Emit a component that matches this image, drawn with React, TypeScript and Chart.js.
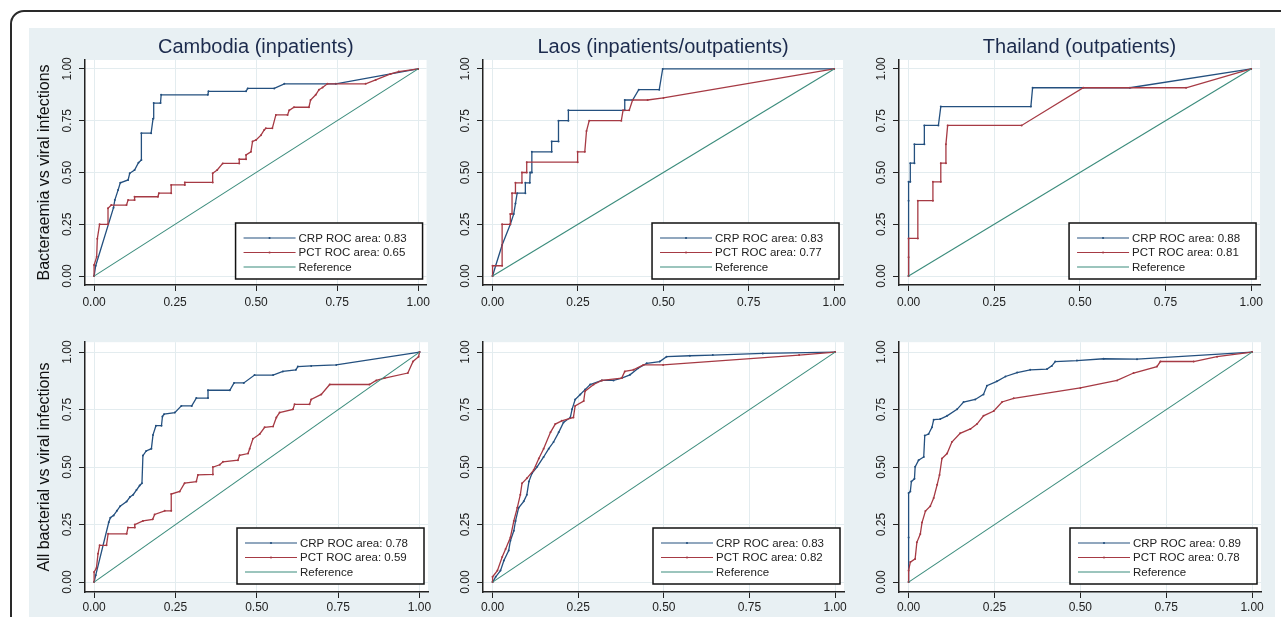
import React, { useEffect, useRef } from "react";
import { Chart, registerables } from "chart.js";

Chart.register(...registerables);

// ---------------- data ----------------
const columnTitles = ["Cambodia (inpatients)", "Laos (inpatients/outpatients)", "Thailand (outpatients)"];
const rowTitles = ["Bacteraemia vs viral infections", "All bacterial vs viral infections"];
const tickValues = [0, 0.25, 0.5, 0.75, 1];
const tickLabels = ["0.00", "0.25", "0.50", "0.75", "1.00"];
const crpAreas = [
  [0.83, 0.83, 0.88],
  [0.78, 0.83, 0.89],
];
const pctAreas = [
  [0.65, 0.77, 0.81],
  [0.59, 0.82, 0.78],
];
const referenceLine = [[0, 0], [1, 1]];

// [1 - specificity, sensitivity]
const cambodiaBactCRP = [
  [0, 0], [0.005, 0.05], [0.06, 0.33], [0.064, 0.367], [0.074, 0.415], [0.081, 0.45], [0.105, 0.464],
  [0.11, 0.496], [0.125, 0.512], [0.137, 0.547], [0.146, 0.56], [0.146, 0.69], [0.176, 0.69],
  [0.182, 0.76], [0.184, 0.835], [0.205, 0.835], [0.207, 0.875], [0.351, 0.875], [0.353, 0.892],
  [0.469, 0.892], [0.474, 0.906], [0.556, 0.906], [0.587, 0.928], [0.746, 0.928], [1, 1],
];
const cambodiaBactPCT = [
  [0, 0], [0, 0.053], [0.008, 0.093], [0.01, 0.18], [0.017, 0.25], [0.043, 0.25], [0.043, 0.327],
  [0.053, 0.343], [0.1, 0.343], [0.105, 0.367], [0.125, 0.367], [0.125, 0.383], [0.197, 0.383],
  [0.2, 0.4], [0.238, 0.4], [0.238, 0.44], [0.28, 0.44], [0.28, 0.452], [0.366, 0.452], [0.366, 0.496],
  [0.38, 0.512], [0.397, 0.544], [0.448, 0.544], [0.448, 0.564], [0.469, 0.564], [0.469, 0.585],
  [0.484, 0.6], [0.489, 0.65], [0.5, 0.657], [0.515, 0.68], [0.525, 0.705], [0.53, 0.713], [0.55, 0.713],
  [0.561, 0.778], [0.597, 0.778], [0.602, 0.8], [0.617, 0.815], [0.663, 0.815], [0.668, 0.85],
  [0.684, 0.875], [0.694, 0.9], [0.705, 0.91], [0.72, 0.928], [0.838, 0.928], [0.869, 0.947],
  [0.915, 0.976], [0.94, 0.987], [1, 1],
];
const cambodiaAllCRP = [
  [0, 0], [0.005, 0.03], [0.045, 0.26], [0.05, 0.28], [0.06, 0.29], [0.07, 0.31], [0.08, 0.33],
  [0.1, 0.35], [0.11, 0.37], [0.12, 0.38], [0.13, 0.4], [0.14, 0.42], [0.147, 0.43], [0.15, 0.55],
  [0.16, 0.57], [0.176, 0.58], [0.181, 0.64], [0.19, 0.68], [0.207, 0.68], [0.21, 0.72], [0.215, 0.73],
  [0.248, 0.737], [0.268, 0.766], [0.3, 0.766], [0.314, 0.8], [0.35, 0.8], [0.35, 0.834], [0.417, 0.834],
  [0.43, 0.866], [0.46, 0.866], [0.493, 0.9], [0.55, 0.9], [0.58, 0.916], [0.62, 0.923], [0.626, 0.937],
  [0.667, 0.94], [0.744, 0.944], [1, 1],
];
const cambodiaAllPCT = [
  [0, 0], [0, 0.044], [0.007, 0.06], [0.012, 0.123], [0.017, 0.16], [0.038, 0.16], [0.043, 0.21],
  [0.1, 0.21], [0.104, 0.237], [0.125, 0.237], [0.125, 0.25], [0.15, 0.266], [0.18, 0.273],
  [0.186, 0.294], [0.217, 0.31], [0.237, 0.31], [0.237, 0.383], [0.263, 0.394], [0.278, 0.43],
  [0.314, 0.437], [0.319, 0.466], [0.365, 0.468], [0.365, 0.5], [0.386, 0.51], [0.396, 0.523],
  [0.442, 0.53], [0.447, 0.551], [0.473, 0.559], [0.478, 0.58], [0.488, 0.623], [0.509, 0.644],
  [0.524, 0.673], [0.55, 0.677], [0.56, 0.716], [0.57, 0.737], [0.611, 0.751], [0.616, 0.773],
  [0.662, 0.773], [0.667, 0.794], [0.698, 0.816], [0.724, 0.859], [0.846, 0.859], [0.867, 0.877],
  [0.893, 0.887], [0.964, 0.909], [0.98, 0.959], [0.997, 0.98], [1, 1],
];
const laosBactCRP = [
  [0, 0], [0.009, 0.05], [0.028, 0.15], [0.052, 0.25], [0.062, 0.3], [0.067, 0.35], [0.072, 0.4],
  [0.096, 0.4], [0.096, 0.45], [0.109, 0.45], [0.11, 0.5], [0.115, 0.5], [0.115, 0.6], [0.173, 0.6],
  [0.173, 0.65], [0.193, 0.65], [0.193, 0.75], [0.222, 0.75], [0.222, 0.8], [0.387, 0.8], [0.387, 0.85],
  [0.41, 0.85], [0.428, 0.9], [0.488, 0.9], [0.498, 1], [1, 1],
];
const laosBactPCT = [
  [0, 0], [0, 0.05], [0.028, 0.05], [0.028, 0.25], [0.052, 0.25], [0.052, 0.3], [0.057, 0.3],
  [0.057, 0.4], [0.067, 0.4], [0.067, 0.45], [0.086, 0.45], [0.086, 0.5], [0.1, 0.5], [0.1, 0.55],
  [0.249, 0.55], [0.249, 0.6], [0.27, 0.6], [0.275, 0.7], [0.283, 0.75], [0.377, 0.75], [0.382, 0.8],
  [0.4, 0.8], [0.41, 0.85], [0.454, 0.85], [0.5, 0.86], [1, 1],
];
const laosAllCRP = [
  [0, 0], [0.009, 0.023], [0.023, 0.05], [0.033, 0.094], [0.047, 0.137], [0.052, 0.18], [0.062, 0.223],
  [0.067, 0.266], [0.076, 0.323], [0.091, 0.351], [0.1, 0.38], [0.106, 0.437], [0.115, 0.473],
  [0.13, 0.501], [0.149, 0.544], [0.164, 0.58], [0.178, 0.609], [0.193, 0.651], [0.207, 0.694],
  [0.227, 0.716], [0.232, 0.751], [0.241, 0.794], [0.256, 0.816], [0.27, 0.837], [0.285, 0.859],
  [0.319, 0.877], [0.353, 0.877], [0.377, 0.887], [0.401, 0.901], [0.425, 0.93], [0.45, 0.951],
  [0.488, 0.959], [0.508, 0.98], [0.576, 0.984], [0.643, 0.987], [0.789, 0.994], [1, 1],
];
const laosAllPCT = [
  [0, 0], [0, 0.023], [0.014, 0.05], [0.028, 0.109], [0.038, 0.144], [0.052, 0.194], [0.062, 0.266],
  [0.072, 0.323], [0.081, 0.38], [0.086, 0.43], [0.1, 0.451], [0.12, 0.487], [0.135, 0.537],
  [0.149, 0.58], [0.169, 0.651], [0.183, 0.687], [0.202, 0.701], [0.236, 0.716], [0.241, 0.766],
  [0.266, 0.787], [0.27, 0.83], [0.295, 0.859], [0.319, 0.877], [0.377, 0.887], [0.386, 0.916],
  [0.411, 0.923], [0.44, 0.944], [0.498, 0.944], [0.895, 0.987], [1, 1],
];
const thaiBactCRP = [
  [0, 0], [0, 0.364], [0, 0.455], [0.005, 0.455], [0.005, 0.545], [0.017, 0.545], [0.017, 0.636],
  [0.046, 0.636], [0.046, 0.727], [0.087, 0.727], [0.094, 0.818], [0.357, 0.818], [0.362, 0.909],
  [0.646, 0.909], [1, 1],
];
const thaiBactPCT = [
  [0, 0], [0, 0.091], [0, 0.182], [0.027, 0.182], [0.027, 0.364], [0.071, 0.364], [0.071, 0.455],
  [0.094, 0.455], [0.094, 0.545], [0.109, 0.545], [0.109, 0.636], [0.114, 0.727], [0.33, 0.727],
  [0.51, 0.909], [0.81, 0.909], [1, 1],
];
const thaiAllCRP = [
  [0, 0], [0, 0.194], [0, 0.387], [0.005, 0.394], [0.008, 0.437], [0.017, 0.449], [0.019, 0.501],
  [0.029, 0.53], [0.044, 0.544], [0.047, 0.637], [0.058, 0.644], [0.068, 0.673], [0.073, 0.706],
  [0.092, 0.709], [0.112, 0.723], [0.141, 0.751], [0.16, 0.783], [0.194, 0.794], [0.218, 0.816],
  [0.228, 0.854], [0.257, 0.873], [0.282, 0.894], [0.316, 0.911], [0.354, 0.923], [0.403, 0.926],
  [0.417, 0.94], [0.427, 0.959], [0.49, 0.963], [0.568, 0.971], [0.665, 0.969], [1, 1],
];
const thaiAllPCT = [
  [0, 0], [0, 0.051], [0.005, 0.087], [0.019, 0.101], [0.024, 0.173], [0.034, 0.209], [0.039, 0.259],
  [0.049, 0.309], [0.063, 0.33], [0.073, 0.366], [0.083, 0.423], [0.09, 0.466], [0.097, 0.537],
  [0.112, 0.559], [0.126, 0.609], [0.15, 0.647], [0.18, 0.666], [0.199, 0.687], [0.218, 0.723],
  [0.248, 0.744], [0.272, 0.783], [0.306, 0.799], [0.5, 0.844], [0.607, 0.877], [0.655, 0.909],
  [0.723, 0.937], [0.733, 0.959], [0.83, 0.959], [0.898, 0.98], [1, 1],
];

const crpCurves = [
  [cambodiaBactCRP, laosBactCRP, thaiBactCRP],
  [cambodiaAllCRP, laosAllCRP, thaiAllCRP],
];
const pctCurves = [
  [cambodiaBactPCT, laosBactPCT, thaiBactPCT],
  [cambodiaAllPCT, laosAllPCT, thaiAllPCT],
];

// ---------------- styling / layout ----------------
const FONT = '"Liberation Sans", Arial, Helvetica, sans-serif';
const CRP_COLOR = "#24507f";
const PCT_COLOR = "#a63a44";
const REF_COLOR = "#3b8c7c";
const GRID_COLOR = "#e3ecef";
const AXIS_COLOR = "#222";
const BG_COLOR = "#e8f0f3";

const colCanvasLeft = [29, 453, 869];
const colCanvasWidth = [405, 397, 398];
const colYAxisWidth = [56, 30, 30];
const rowCanvasTop = [28, 335];
const rowCanvasHeight = [283, 283];
const X_AXIS_H = 26;

const toPts = (arr: number[][]) => arr.map(([x, y]) => ({ x, y }));

const plotBgPlugin = {
  id: "plotBg",
  beforeDraw(chart: any) {
    const { ctx, chartArea } = chart;
    ctx.save();
    ctx.fillStyle = "#ffffff";
    ctx.fillRect(chartArea.left, chartArea.top, chartArea.right - chartArea.left, chartArea.bottom - chartArea.top);
    ctx.restore();
  },
};

const insideLegendPlugin = {
  id: "insideLegend",
  afterDatasetsDraw(chart: any, _args: any, opts: any) {
    const { ctx, chartArea } = chart;
    const w = 187;
    const h = 56;
    const x = chartArea.right - 4 - w;
    const y = chartArea.bottom - (opts.bottomGap ?? 6) - h;
    ctx.save();
    ctx.fillStyle = "#ffffff";
    ctx.fillRect(x, y, w, h);
    ctx.strokeStyle = "#111";
    ctx.lineWidth = 1.5;
    ctx.strokeRect(x, y, w, h);
    const rows = [15, 29.5, 44];
    const ds = chart.data.datasets;
    ds.forEach((d: any, i: number) => {
      const yy = y + rows[i];
      ctx.strokeStyle = d.borderColor;
      ctx.lineWidth = 1.2;
      ctx.beginPath();
      ctx.moveTo(x + 8, yy);
      ctx.lineTo(x + 60, yy);
      ctx.stroke();
      if (d.pointRadius > 0) {
        ctx.fillStyle = d.borderColor;
        ctx.beginPath();
        ctx.arc(x + 34, yy, 1.1, 0, Math.PI * 2);
        ctx.fill();
      }
      ctx.fillStyle = "#222";
      ctx.font = `11.5px ${FONT}`;
      ctx.textAlign = "left";
      ctx.textBaseline = "middle";
      ctx.fillText(d.label, x + 63, yy + 0.5);
    });
    ctx.restore();
  },
};

function Panel({ r, c }: { r: number; c: number }) {
  const ref = useRef<HTMLCanvasElement>(null);
  const w = colCanvasWidth[c];
  const h = rowCanvasHeight[r];

  useEffect(() => {
    if (!ref.current) return;
    const tickFont = { family: FONT, size: 12 };
    const labelFor = (v: number) => {
      const i = tickValues.findIndex((t) => Math.abs(t - v) < 1e-9);
      return i >= 0 ? tickLabels[i] : "";
    };
    const setTicks = (scale: any) => {
      scale.ticks = tickValues.map((v) => ({ value: v }));
    };
    const chart = new Chart(ref.current, {
      type: "line",
      data: {
        datasets: [
          {
            label: `CRP ROC area: ${crpAreas[r][c].toFixed(2)}`,
            data: toPts(crpCurves[r][c]),
            borderColor: CRP_COLOR,
            backgroundColor: CRP_COLOR,
            borderWidth: 1.3,
            pointRadius: 1,
            pointBorderWidth: 0,
            pointBackgroundColor: CRP_COLOR,
            tension: 0,
            order: 2,
          },
          {
            label: `PCT ROC area: ${pctAreas[r][c].toFixed(2)}`,
            data: toPts(pctCurves[r][c]),
            borderColor: PCT_COLOR,
            backgroundColor: PCT_COLOR,
            borderWidth: 1.3,
            pointRadius: 1,
            pointBorderWidth: 0,
            pointBackgroundColor: PCT_COLOR,
            tension: 0,
            order: 1,
          },
          {
            label: "Reference",
            data: toPts(referenceLine),
            borderColor: REF_COLOR,
            backgroundColor: REF_COLOR,
            borderWidth: 1.1,
            pointRadius: 0,
            tension: 0,
            order: 0,
          },
        ],
      },
      options: {
        responsive: false,
        animation: false,
        events: [],
        layout: {
          padding: { left: 0, right: 6, top: r === 0 ? 0 : 4, bottom: 0 },
        },
        plugins: {
          legend: { display: false },
          tooltip: { enabled: false },
          title: {
            display: r === 0,
            text: columnTitles[c],
            fullSize: false,
            color: "#1c2b4d",
            font: { family: FONT, size: 20, weight: "normal" },
            padding: { top: 7, bottom: 1 },
          },
          insideLegend: { bottomGap: r === 0 ? 6 : 8 },
        } as any,
        scales: {
          x: {
            type: "linear",
            min: -0.028,
            max: 1.026,
            afterBuildTicks: setTicks,
            afterFit: (scale: any) => {
              scale.height = X_AXIS_H;
            },
            grid: { color: GRID_COLOR, tickColor: AXIS_COLOR, tickLength: 6, lineWidth: 1 },
            border: { display: true, color: AXIS_COLOR, width: 1.5 },
            ticks: {
              autoSkip: false,
              minRotation: 0,
              maxRotation: 0,
              padding: r === 0 ? 4 : 2,
              color: "#222",
              font: tickFont,
              callback: (v: any) => labelFor(Number(v)),
            },
          },
          y: {
            type: "linear",
            min: -0.043,
            max: 1.043,
            afterBuildTicks: setTicks,
            afterFit: (scale: any) => {
              scale.width = colYAxisWidth[c];
            },
            grid: { color: GRID_COLOR, tickColor: AXIS_COLOR, tickLength: 6, lineWidth: 1 },
            border: { display: true, color: AXIS_COLOR, width: 1.5 },
            title: {
              display: c === 0,
              text: rowTitles[r],
              color: "#111",
              font: { family: FONT, size: 16 },
              padding: { top: 6.4, bottom: 0 },
            },
            ticks: {
              autoSkip: false,
              minRotation: 90,
              maxRotation: 90,
              crossAlign: "center",
              padding: 0,
              color: "#222",
              font: tickFont,
              callback: (v: any) => labelFor(Number(v)),
            },
          },
        },
      } as any,
      plugins: [plotBgPlugin, insideLegendPlugin],
    });
    return () => chart.destroy();
  }, [r, c]);

  return (
    <canvas
      ref={ref}
      width={w}
      height={h}
      style={{
        position: "absolute",
        left: colCanvasLeft[c],
        top: rowCanvasTop[r],
        width: w,
        height: h,
      }}
    />
  );
}

export default function App() {
  return (
    <div
      style={{
        position: "absolute",
        left: 0,
        top: 0,
        width: 1281,
        height: 617,
        overflow: "hidden",
        background: "#ffffff",
      }}
    >
      <div
        style={{
          position: "absolute",
          left: 10,
          top: 10,
          width: 1400,
          height: 800,
          border: "2px solid #2a2a2a",
          borderRadius: 14,
          boxSizing: "border-box",
        }}
      />
      <div
        style={{
          position: "absolute",
          left: 29,
          top: 28,
          width: 1246,
          height: 700,
          background: BG_COLOR,
        }}
      />
      {[0, 1].map((r) => [0, 1, 2].map((c) => <Panel key={`${r}-${c}`} r={r} c={c} />))}
    </div>
  );
}
